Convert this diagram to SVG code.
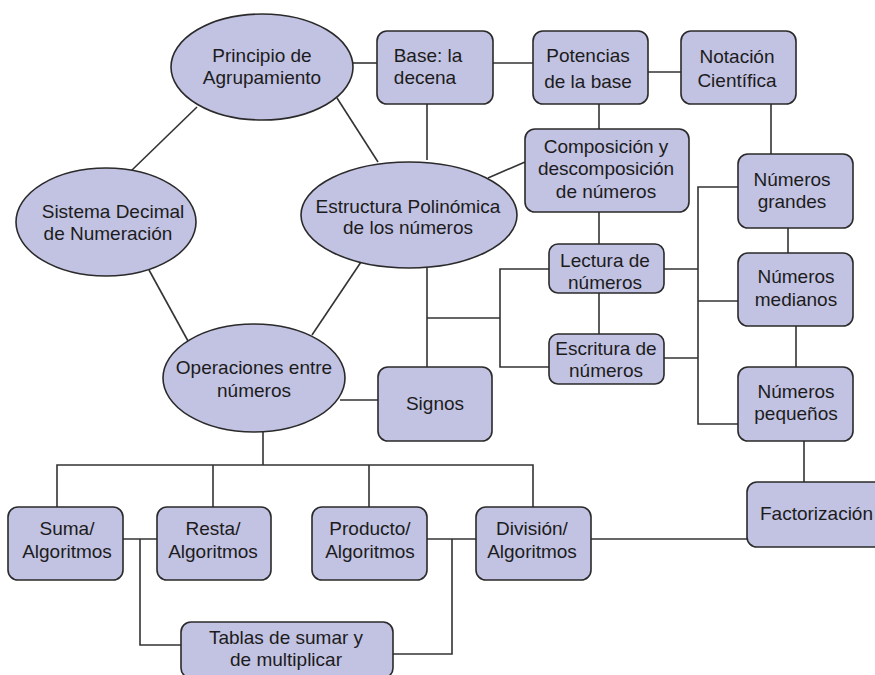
<svg xmlns="http://www.w3.org/2000/svg" width="875" height="675" viewBox="0 0 875 675">
<style>
.n{fill:#c2c2e2;stroke:#2a2a2a;stroke-width:1.6}
.t{font-family:"Liberation Sans",Arial,sans-serif;font-size:19px;fill:#1c1c1c;text-anchor:middle}
#connectors path{fill:none;stroke:#333;stroke-width:1.6}
</style>
<rect width="875" height="675" fill="#fff"/>
<g id="connectors">
<path d="M353 63H377"/>
<path d="M493 63H533"/>
<path d="M648 72H681"/>
<path d="M427 104V160"/>
<path d="M197 107L131 171"/>
<path d="M337 98L378 162"/>
<path d="M599 104V129"/>
<path d="M525 162L488 178"/>
<path d="M771 104V154"/>
<path d="M149 270L188 341"/>
<path d="M361 262L312 335"/>
<path d="M427 268V367"/>
<path d="M427 318H500"/>
<path d="M549 269H500V367H549"/>
<path d="M599 212V244"/>
<path d="M599 293V334"/>
<path d="M340 400H378"/>
<path d="M664 269H698"/>
<path d="M664 358H698"/>
<path d="M738 187H698V424H738"/>
<path d="M698 301H738"/>
<path d="M788 228V253"/>
<path d="M796 326V367"/>
<path d="M804 441V482"/>
<path d="M263 432V465"/>
<path d="M57 507V465H533V507"/>
<path d="M213 465V507"/>
<path d="M369 465V507"/>
<path d="M123 539H157"/>
<path d="M140 539V645H181"/>
<path d="M427 539H476"/>
<path d="M452 539V654H393"/>
<path d="M591 539H747"/>
</g>
<g id="principio"><ellipse class="n" cx="262" cy="67" rx="91" ry="53"/><text class="t" x="262" y="62">Principio de</text><text class="t" x="262" y="84">Agrupamiento</text></g>
<g id="base"><rect class="n" x="377" y="31" width="116" height="73" rx="10"/><text class="t" x="428" y="62">Base: la</text><text class="t" x="425" y="84">decena</text></g>
<g id="potencias"><rect class="n" x="533" y="31" width="115" height="73" rx="10"/><text class="t" x="588" y="62">Potencias</text><text class="t" x="588" y="88">de la base</text></g>
<g id="notacion"><rect class="n" x="681" y="31" width="115" height="73" rx="10"/><text class="t" x="737" y="63">Notación</text><text class="t" x="737" y="87">Científica</text></g>
<g id="composicion"><rect class="n" x="525" y="129" width="164" height="83" rx="10"/><text class="t" x="606" y="153">Composición y</text><text class="t" x="606" y="175">descomposición</text><text class="t" x="606" y="198">de números</text></g>
<g id="sistema"><ellipse class="n" cx="106" cy="222" rx="90" ry="54"/><text class="t" x="113" y="218">Sistema Decimal</text><text class="t" x="108" y="240">de Numeración</text></g>
<g id="estructura"><ellipse class="n" cx="409" cy="215" rx="108" ry="53"/><text class="t" x="408" y="213">Estructura Polinómica</text><text class="t" x="408" y="234">de los números</text></g>
<g id="grandes"><rect class="n" x="738" y="154" width="115" height="74" rx="10"/><text class="t" x="792" y="186">Números</text><text class="t" x="792" y="208">grandes</text></g>
<g id="lectura"><rect class="n" x="549" y="244" width="115" height="49" rx="9"/><text class="t" x="605" y="267">Lectura de</text><text class="t" x="605" y="289">números</text></g>
<g id="medianos"><rect class="n" x="738" y="253" width="115" height="73" rx="10"/><text class="t" x="796" y="283">Números</text><text class="t" x="796" y="306">medianos</text></g>
<g id="escritura"><rect class="n" x="549" y="334" width="115" height="50" rx="9"/><text class="t" x="606" y="355">Escritura de</text><text class="t" x="606" y="377">números</text></g>
<g id="operaciones"><ellipse class="n" cx="254" cy="378" rx="91" ry="54"/><text class="t" x="254" y="374">Operaciones entre</text><text class="t" x="254" y="397">números</text></g>
<g id="signos"><rect class="n" x="378" y="367" width="114" height="74" rx="10"/><text class="t" x="435" y="410">Signos</text></g>
<g id="pequenos"><rect class="n" x="738" y="367" width="115" height="74" rx="10"/><text class="t" x="796" y="398">Números</text><text class="t" x="796" y="420">pequeños</text></g>
<g id="factorizacion"><rect class="n" x="747" y="482" width="145" height="65" rx="10"/><text class="t" x="760" y="520" style="text-anchor:start">Factorización</text></g>
<g id="suma"><rect class="n" x="8" y="507" width="115" height="73" rx="10"/><text class="t" x="67" y="535">Suma/</text><text class="t" x="67" y="558">Algoritmos</text></g>
<g id="resta"><rect class="n" x="157" y="507" width="114" height="73" rx="10"/><text class="t" x="213" y="535">Resta/</text><text class="t" x="213" y="558">Algoritmos</text></g>
<g id="producto"><rect class="n" x="312" y="507" width="115" height="73" rx="10"/><text class="t" x="370" y="535">Producto/</text><text class="t" x="370" y="558">Algoritmos</text></g>
<g id="division"><rect class="n" x="476" y="507" width="115" height="73" rx="10"/><text class="t" x="532" y="535">División/</text><text class="t" x="532" y="558">Algoritmos</text></g>
<g id="tablas"><rect class="n" x="181" y="622" width="212" height="56" rx="10"/><text class="t" x="286" y="644">Tablas de sumar y</text><text class="t" x="286" y="666">de multiplicar</text></g>
</svg>
